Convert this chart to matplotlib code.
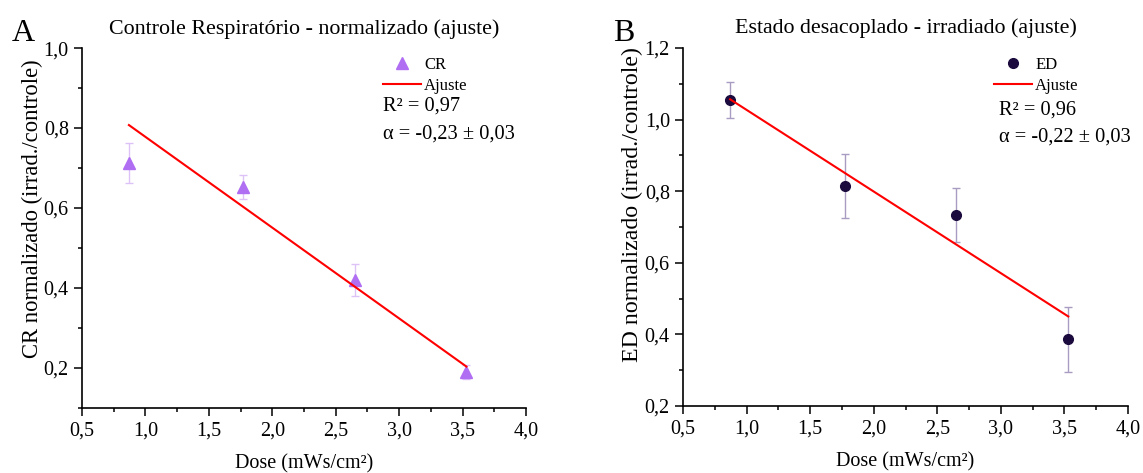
import matplotlib
matplotlib.use('Agg')
import matplotlib.pyplot as plt
import numpy as np
from matplotlib.ticker import MultipleLocator, FuncFormatter

plt.rcParams['font.family'] = ['Liberation Serif', 'DejaVu Serif']

# dados
dose = [0.87, 1.77, 2.65, 3.53]
cr = [0.712, 0.652, 0.421, 0.19]
cr_err = [0.05, 0.03, 0.04, 0.018]
ed = [1.055, 0.815, 0.733, 0.386]
ed_err = [0.05, 0.09, 0.075, 0.09]

# ajuste linear: intercepto, inclinacao
fit_cr = [1.005, -0.227]
fit_ed = [1.255, -0.228]

def virgula(v, pos):
    return ('%.1f' % v).replace('.', ',')

def estilo(ax, ylo, yhi):
    ax.spines['top'].set_visible(False)
    ax.spines['right'].set_visible(False)
    ax.set_xlim(0.5, 4.0)
    ax.set_ylim(ylo, yhi)
    ax.xaxis.set_major_locator(MultipleLocator(0.5))
    ax.xaxis.set_minor_locator(MultipleLocator(0.25))
    ax.yaxis.set_major_locator(MultipleLocator(0.2))
    ax.yaxis.set_minor_locator(MultipleLocator(0.1))
    ax.xaxis.set_major_formatter(FuncFormatter(virgula))
    ax.yaxis.set_major_formatter(FuncFormatter(virgula))
    ax.tick_params(which='major', length=6, width=1.1, labelsize=14.5, direction='out')
    ax.tick_params(which='minor', length=3, width=1.1, direction='out')
    for s in ['left', 'bottom']:
        ax.spines[s].set_linewidth(1.2)
    ax.set_xlabel('Dose (mWs/cm²)', fontsize=14.5, labelpad=10)

fig = plt.figure(figsize=(11.43, 4.73), dpi=100)
ax = fig.add_axes([0.0717, 0.1374, 0.3885, 0.761])
ax1 = fig.add_axes([0.5976, 0.1416, 0.3893, 0.757])

# painel A
estilo(ax, 0.1, 1.0)
ax.errorbar(dose, cr, yerr=cr_err, fmt='none', ecolor='#dcc2f7', elinewidth=1, capsize=3, capthick=1)
ax.plot(dose, cr, '^', color='#b06ef2', markersize=8, linestyle='none', label='CR')
xf = np.array([dose[0], dose[-1]])
ax.plot(xf, fit_cr[0] + fit_cr[1] * xf, color='#ff0000', lw=1.5, label='Ajuste')
ax.set_ylabel('CR normalizado (irrad./controle)', fontsize=16.3)
ax.yaxis.set_label_coords(-0.088, 0.554)
ax.set_title('Controle Respiratório - normalizado (ajuste)', fontsize=15.8, pad=10)
ax.legend(loc='upper left', bbox_to_anchor=(0.662, 0.994), frameon=False, fontsize=12,
          handlelength=2.3, handletextpad=0.2, labelspacing=0.3, borderaxespad=0)
ax.text(0.678, 0.838, 'R² = 0,97', transform=ax.transAxes, fontsize=14.7, va='center')
ax.text(0.678, 0.760, 'α = -0,23 ± 0,03', transform=ax.transAxes, fontsize=14.7, va='center')
fig.text(0.010, 0.913, 'A', fontsize=23)

# painel B
estilo(ax1, 0.2, 1.2)
ax1.errorbar(dose, ed, yerr=ed_err, fmt='none', ecolor='#a99cc2', elinewidth=1, capsize=3, capthick=1)
ax1.plot(dose, ed, 'o', color='#1b0a3d', markersize=7, linestyle='none', label='ED')
ax1.plot(xf, fit_ed[0] + fit_ed[1] * xf, color='#ff0000', lw=1.5, label='Ajuste')
ax1.set_ylabel('ED normalizado (irrad./controle)', fontsize=17.2)
ax1.yaxis.set_label_coords(-0.09, 0.562)
ax1.set_title('Estado desacoplado - irradiado (ajuste)', fontsize=15.8, pad=11)
ax1.legend(loc='upper left', bbox_to_anchor=(0.683, 0.994), frameon=False, fontsize=12,
           handlelength=2.3, handletextpad=0.2, labelspacing=0.3, borderaxespad=0)
ax1.text(0.71, 0.826, 'R² = 0,96', transform=ax1.transAxes, fontsize=14.7, va='center')
ax1.text(0.71, 0.752, 'α = -0,22 ± 0,03', transform=ax1.transAxes, fontsize=14.7, va='center')
fig.text(0.536, 0.913, 'B', fontsize=23)

fig.savefig('out.png', dpi=100)
